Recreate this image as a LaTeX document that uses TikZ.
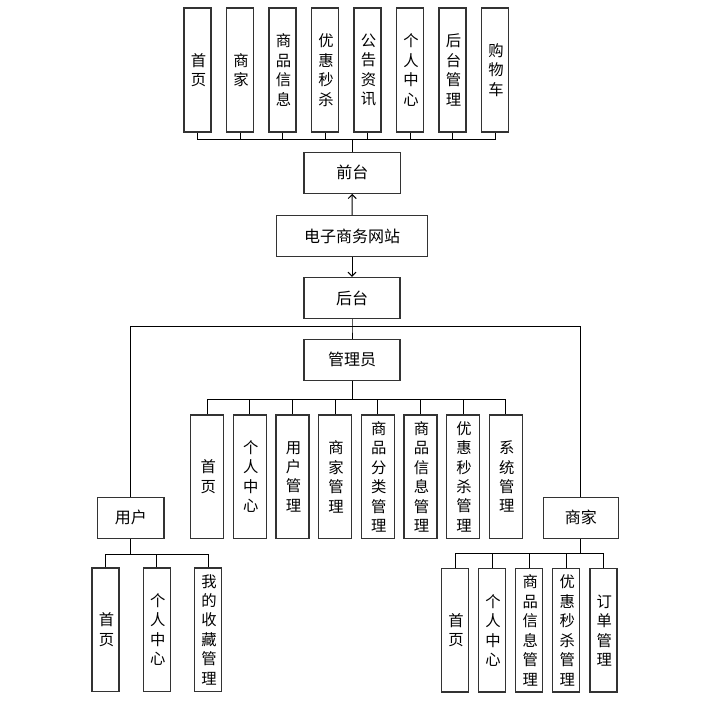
\documentclass[tikz,border=0pt]{standalone}
\usepackage{fontspec}
\setmainfont{Noto Sans CJK SC}
\usetikzlibrary{arrows.meta}
\tikzset{
  hbox/.style={draw=black!80,line width=0.9pt,minimum height=30.75pt,inner sep=0pt,font=\fontsize{12}{14.6}\selectfont},
  vbox/.style={draw=black!80,line width=0.9pt,minimum width=20.25pt,minimum height=92.5pt,inner sep=0pt,text width=1em,align=center,font=\fontsize{11.5}{14.6}\selectfont},
  link/.style={line width=0.75pt},
  up/.style={link,-{Straight Barb[length=3pt,width=6pt]}}
}

\begin{document}
\begin{tikzpicture}[x=0.75pt,y=-0.75pt]
      \useasboundingbox (0,0) rectangle (728,708);
      \node[hbox,minimum width=72.5pt] (qt) at (352.3,172.8) {前台};
      \node[hbox,minimum width=113pt] (site) at (352,236.2) {电子商务网站};
      \node[hbox,minimum width=72pt] (ht) at (352,298) {后台};
      \node[hbox,minimum width=72pt] (gly) at (352,359.7) {管理员};
      \node[hbox,minimum width=49.7pt] (yh) at (130.9,517.8) {用户};
      \node[hbox,minimum width=56.25pt] (sj) at (580.8,517.8) {商家};
      \coordinate (qbus) at (352.3,139);
      \coordinate (hbus) at (352,326.7);
      \coordinate (abus) at (352,399.3);
      \coordinate (ubus) at (130.9,554);
      \coordinate (sbus) at (580.8,553.3);
      \draw[up] (site) -- (qt);
      \draw[up] (site) -- (ht);
      \draw[link] (qt.north) -- (qbus);
      \draw[link] (ht.south) -- (hbus) -- (gly.north);
      \draw[link] (yh.north) |- (hbus);
      \draw[link] (sj.north) |- (hbus);
      \draw[link] (gly.south) -- (abus);
      \draw[link] (yh.south) -- (ubus);
      \draw[link] (sj.south) -- (sbus);
      \foreach \t [count=\i] in {{首\\页},{商\\家},{商\\品\\信\\息},{优\\惠\\秒\\杀},{公\\告\\资\\讯},{个\\人\\中\\心},{后\\台\\管\\理},{购\\物\\车}}{
        \node[vbox,minimum height=93pt] (f\i) at ({197.5+42.5*(\i-1)},70) {\t};
        \draw[link] (f\i.south) |- (qbus);
      }
      \foreach \t [count=\i] in {{首\\页},{个\\人\\中\\心},{用\\户\\管\\理},{商\\家\\管\\理},{商\\品\\分\\类\\管\\理},{商\\品\\信\\息\\管\\理},{优\\惠\\秒\\杀\\管\\理},{系\\统\\管\\理}}{
        \node[vbox,minimum width=24.75pt] (a\i) at ({207.2+42.65*(\i-1)},476.7) {\t};
        \draw[link] (a\i.north) |- (abus);
      }
      \foreach \t [count=\i] in {{首\\页},{个\\人\\中\\心},{我\\的\\收\\藏\\管\\理}}{
        \node[vbox] (u\i) at ({105.5+51.25*(\i-1)},629.7) {\t};
        \draw[link] (u\i.north) |- (ubus);
      }
      \foreach \t [count=\i] in {{首\\页},{个\\人\\中\\心},{商\\品\\信\\息\\管\\理},{优\\惠\\秒\\杀\\管\\理},{订\\单\\管\\理}}{
        \node[vbox] (s\i) at ({455+37.1*(\i-1)},630.4) {\t};
        \draw[link] (s\i.north) |- (sbus);
      }
    \end{tikzpicture}
\end{document}
